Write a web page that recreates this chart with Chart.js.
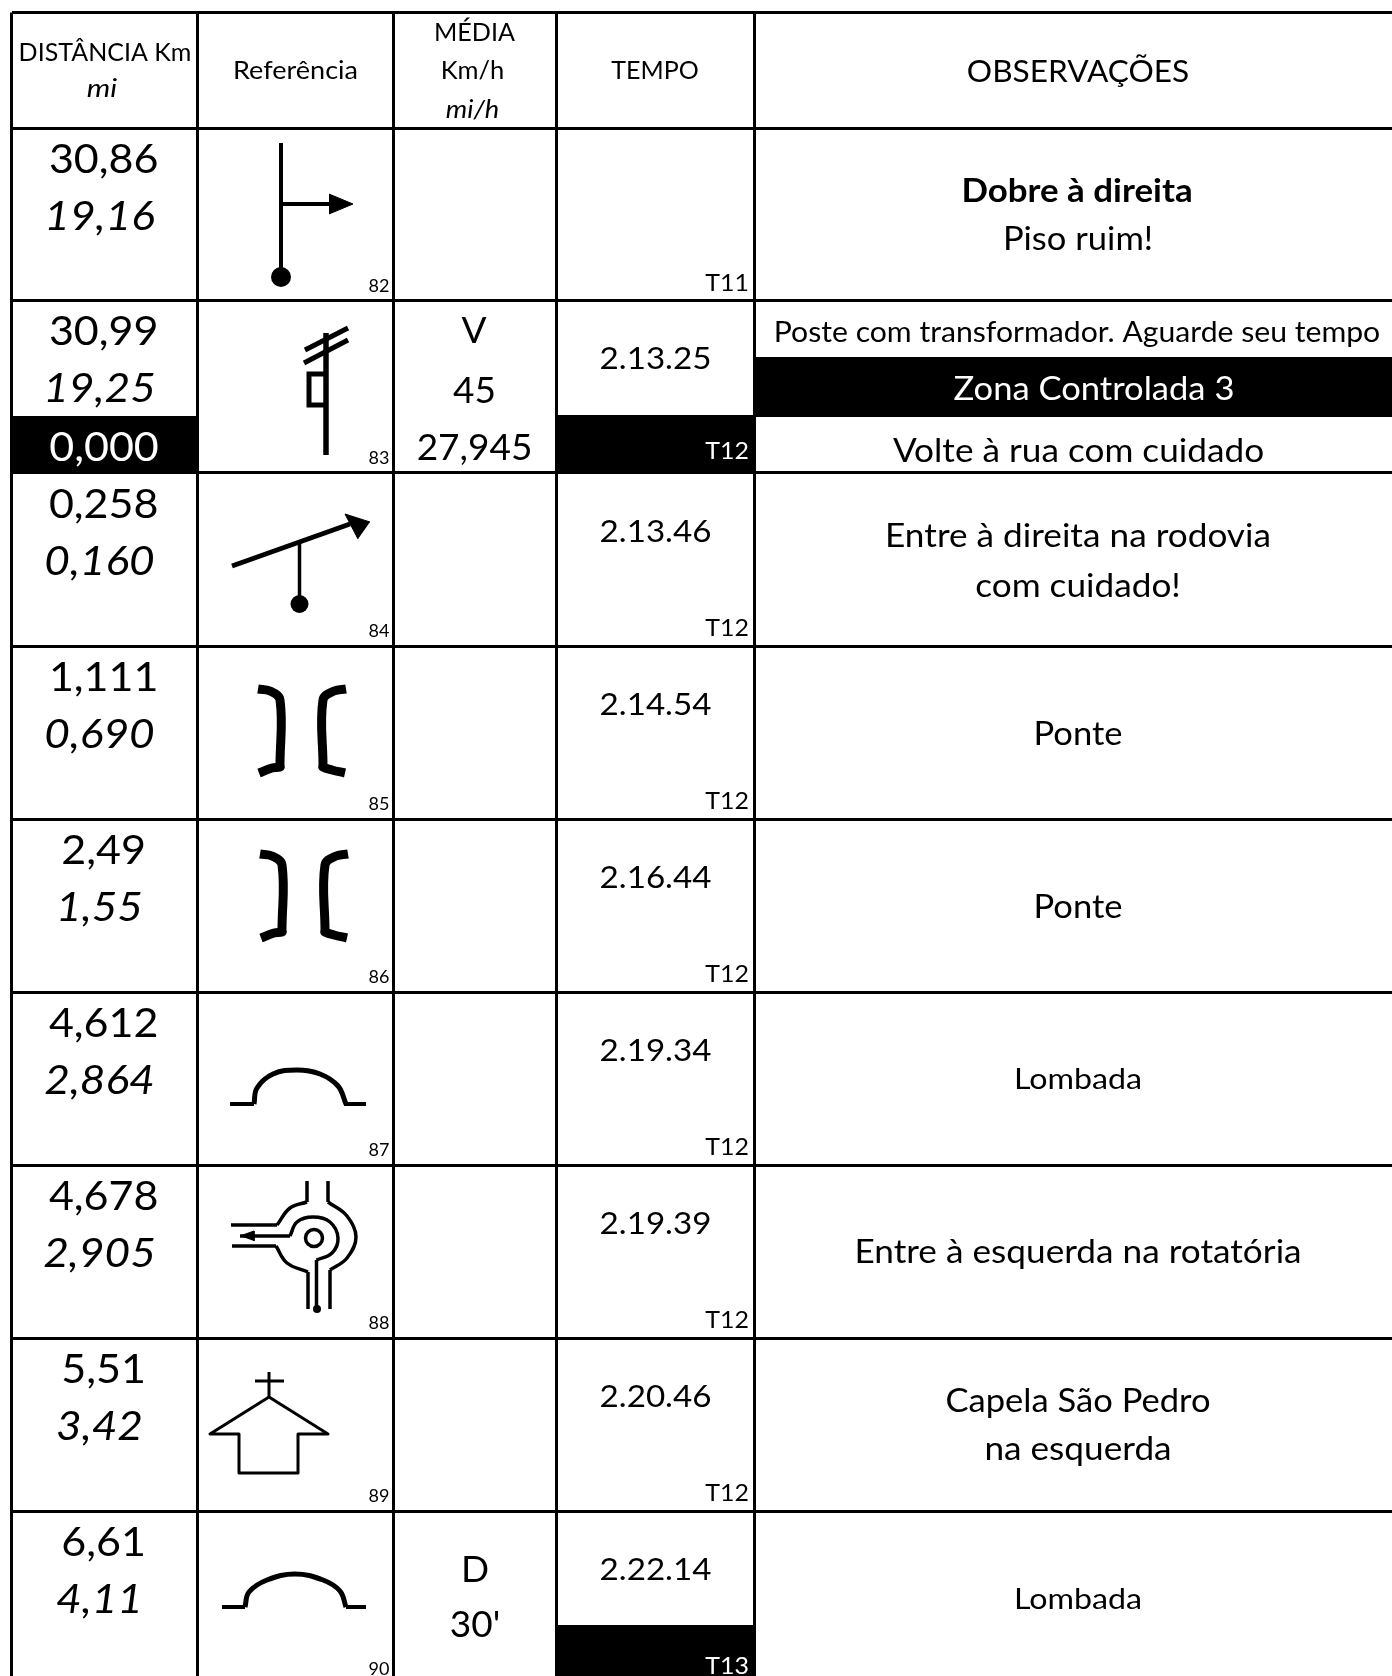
<!DOCTYPE html>
<html>
<head>
<meta charset="utf-8">
<script src="https://cdn.jsdelivr.net/npm/chart.js@4"></script>
<style>
  html, body { margin: 0; padding: 0; background: #fff; }
  canvas { display: block; }
</style>
</head>
<body>
<canvas id="myChart" width="1392" height="1676"></canvas>
<script>
// table data
var headerKm = ["DISTÂNCIA Km", "mi"];
var headerRef = ["Referência"];
var headerMedia = ["MÉDIA", "Km/h", "mi/h"];
var headerTempo = ["TEMPO"];
var headerObs = ["OBSERVAÇÕES"];

var kmValues = ["30,86", "30,99", "0,258", "1,111", "2,49", "4,612", "4,678", "5,51", "6,61"];
var miValues = ["19,16", "19,25", "0,160", "0,690", "1,55", "2,864", "2,905", "3,42", "4,11"];
var zoneStart = ["0,000"];
var refNumbers = ["82", "83", "84", "85", "86", "87", "88", "89", "90"];
var tempoValues = ["", "2.13.25", "2.13.46", "2.14.54", "2.16.44", "2.19.34", "2.19.39", "2.20.46", "2.22.14"];
var tempoTeams = ["T11", "T12", "T12", "T12", "T12", "T12", "T12", "T12", "T13"];
var mediaV = ["V", "45", "27,945"];
var mediaD = ["D", "30'"];

// table geometry, on the two linear scales
var colEdges = [11.5, 197, 393.5, 556, 754.5];
var rowEdges = [12.5, 128, 300, 473, 646, 819, 992, 1165, 1338, 1511];

var blackCells = [
    [11.5, 197, 416, 473],
    [556, 754.5, 415, 473],
    [754.5, 1392, 357, 417],
    [556, 754.5, 1625, 1676]
];

// icon strokes in table units
var straight = [
    { w: 4, p: [[281, 143], [281, 277]] },
    { w: 4, p: [[281, 204], [332, 204]] },
    { w: 5.5, p: [[326, 333], [326, 455]] },
    { w: 5, p: [[305, 350], [348, 328]] },
    { w: 5, p: [[304, 363], [348, 340]] },
    { w: 5, p: [[326, 374], [309, 374], [309, 405], [326, 405]] },
    { w: 5, p: [[232, 566], [350, 524]] },
    { w: 3.5, p: [[299.5, 543], [299.5, 604]] },
    { w: 4, p: [[230, 1104], [254, 1104]] },
    { w: 4, p: [[344, 1104], [366, 1104]] },
    { w: 4, p: [[222, 1607], [245, 1607]] },
    { w: 4, p: [[346, 1607], [366, 1607]] },
    { w: 3.5, p: [[307, 1181], [307, 1202]] },
    { w: 3.5, p: [[328, 1181], [328, 1202]] },
    { w: 3.5, p: [[231, 1225], [277, 1225]] },
    { w: 3.5, p: [[232, 1246], [276, 1246]] },
    { w: 3.5, p: [[240, 1236], [290, 1236]] },
    { w: 3.5, p: [[308, 1272], [308, 1309]] },
    { w: 3.5, p: [[330, 1270], [330, 1309]] },
    { w: 3.5, p: [[316.5, 1260], [316.5, 1309]] },
    { w: 3, p: [[269, 1372], [269, 1397]] },
    { w: 3, p: [[255, 1381], [284, 1381]] },
    { w: 3, join: "round", p: [[269, 1397], [210, 1434], [239, 1434], [239, 1473], [298, 1473], [298, 1434], [328, 1434], [269, 1397]] }
];
var curved = [
    { w: 9, p: [[258, 689], [270, 691], [280, 700], [280, 765]] },
    { w: 9, p: [[280, 765], [280, 767], [272, 768], [259, 773]] },
    { w: 9, p: [[346, 689], [334, 691], [323, 700], [323, 765]] },
    { w: 9, p: [[323, 765], [323, 767], [332, 770], [345, 773]] },
    { w: 9, p: [[260, 854], [272, 856], [282, 865], [282, 930]] },
    { w: 9, p: [[282, 930], [282, 932], [274, 933], [261, 938]] },
    { w: 9, p: [[348, 854], [336, 856], [325, 865], [325, 930]] },
    { w: 9, p: [[325, 930], [325, 932], [334, 935], [347, 938]] },
    { w: 5, p: [[254, 1104], [257, 1088], [273, 1074], [297, 1070], [320, 1074], [338, 1086], [346, 1104]] },
    { w: 5, p: [[245, 1607], [249, 1592], [267, 1580], [295, 1574], [323, 1580], [340, 1591], [346, 1607]] },
    { w: 3.5, p: [[307, 1202], [290, 1208], [277, 1225]] },
    { w: 3.5, p: [[328, 1202], [347, 1216], [356, 1237], [347, 1258], [330, 1270]] },
    { w: 3.5, p: [[276, 1246], [287, 1263], [308, 1272]] },
    { w: 3.5, p: [[290, 1236], [297, 1222], [313, 1217], [330, 1222], [338, 1238], [332, 1253], [316.5, 1260]] }
];
var solid = [
    [[329, 194], [353, 204], [329, 214]],
    [[370, 522], [345, 514], [358, 539]],
    [[240, 1236], [254, 1231], [254, 1241]]
];
var dots = [
    { x: 281, y: 277, r: 10 },
    { x: 299.5, y: 604, r: 9 },
    { x: 317, y: 1309, r: 4 }
];
var rings = [{ x: 314, y: 1238, r: 8.5 }];

function xy(p) { return { x: p[0], y: p[1] }; }

var datasets = [];
blackCells.forEach(function (c) {
    datasets.push({
        data: [xy([c[0], c[2]]), xy([c[1], c[2]]), xy([c[1], c[3]]), xy([c[0], c[3]])],
        showLine: true, fill: "shape", backgroundColor: "#000", borderColor: "#000",
        borderWidth: 0, pointRadius: 0
    });
});
straight.forEach(function (s) {
    datasets.push({ data: s.p.map(xy), showLine: true, borderColor: "#000", borderWidth: s.w, pointRadius: 0, borderJoinStyle: s.join || "miter" });
});
curved.forEach(function (s) {
    datasets.push({ data: s.p.map(xy), showLine: true, tension: 0.4, borderColor: "#000", borderWidth: s.w, pointRadius: 0 });
});
solid.forEach(function (t) {
    datasets.push({ data: t.map(xy), showLine: true, fill: "shape", backgroundColor: "#000", borderColor: "#000", borderWidth: 1, pointRadius: 0 });
});
dots.forEach(function (d) {
    datasets.push({ data: [{ x: d.x, y: d.y }], pointRadius: d.r, backgroundColor: "#000", borderColor: "#000", borderWidth: 0 });
});
rings.forEach(function (d) {
    datasets.push({ data: [{ x: d.x, y: d.y }], pointRadius: d.r, backgroundColor: "#fff", borderColor: "#000", borderWidth: 3.5 });
});

// text styles: Lato stands in for Calibri, sx is a horizontal stretch
var FONT = "Lato, 'Open Sans', sans-serif";
var big = { size: 41, sx: 1.05 };
var bigI = { size: 41, sx: 1.08, italic: true };
var media = { size: 37, sx: 1.0 };
var mid = { size: 31, sx: 1.07 };
var obs = { size: 32, sx: 1.08 };
var obsW = { size: 32, sx: 1.1 };
var obsS = { size: 29, sx: 1.04 };
var lomb = { size: 29, sx: 1.11 };
var small = { size: 18, sx: 1 };
var team = { size: 24, sx: 1.04 };

var items = [];
function t(s, x, y, st, opt) {
    items.push(Object.assign({ s: s, x: x, y: y, st: st, align: "center", color: "#000" }, opt || {}));
}

t(headerKm[0], 105, 60.5, { size: 25, sx: 1 });
t(headerKm[1], 102, 97, { size: 26, sx: 1.15, italic: true });
t(headerRef[0], 295.5, 78.5, { size: 25.5, sx: 1.06 });
t(headerMedia[0], 474.5, 41, { size: 25.5, sx: 0.985 });
t(headerMedia[1], 472.5, 78.5, { size: 25.5, sx: 1 });
t(headerMedia[2], 472.5, 118, { size: 26, sx: 1.05, italic: true });
t(headerTempo[0], 655, 78.5, { size: 25.5, sx: 0.98 });
t(headerObs[0], 1078, 81.5, { size: 31, sx: 1.02 });

kmValues.forEach(function (v, i) {
    var top = rowEdges[i + 1];
    t(v, 103.7, top + 45, big);
    t(miValues[i], 99.5, top + 102, bigI);
    t(refNumbers[i], 389.5, top + 163.5, small, { align: "right" });
    if (tempoValues[i]) t(tempoValues[i], 655.5, top + 69, mid);
    t(tempoTeams[i], 749, top + (i === 1 ? 159 : 163), team, { align: "right", color: (i === 1 || i === 8) ? "#fff" : "#000" });
});
t(zoneStart[0], 104, 460.5, big, { color: "#fff" });

t(mediaV[0], 474, 343, media);
t(mediaV[1], 474.5, 403, media);
t(mediaV[2], 474.5, 460, media);
t(mediaD[0], 475, 1582, media);
t(mediaD[1], 475, 1637, media);

t("Dobre à direita", 1077, 202, Object.assign({}, obs, { bold: true, sx: 1.09 }));
t("Piso ruim!", 1078, 250, obs);
t("Poste com transformador. Aguarde seu tempo", 1077, 341.5, obsS);
t("Zona Controlada 3", 1094, 399.5, obs, { color: "#fff" });
t("Volte à rua com cuidado", 1078.5, 462, obsW);
t("Entre à direita na rodovia", 1078, 547, obsW);
t("com cuidado!", 1078, 597, obsW);
t("Ponte", 1078, 745, obs);
t("Ponte", 1078, 918, obs);
t("Lombada", 1078, 1089, lomb);
t("Entre à esquerda na rotatória", 1078, 1263, obsW);
t("Capela São Pedro", 1078, 1412, obs);
t("na esquerda", 1078, 1460, obsW);
t("Lombada", 1078, 1608.5, lomb);

var textPlugin = {
    id: "cellText",
    afterDatasetsDraw: function (chart) {
        var ctx = chart.ctx, xs = chart.scales.x, ys = chart.scales.y;
        items.forEach(function (it) {
            ctx.save();
            ctx.font = (it.st.italic ? "italic " : "") + (it.st.bold ? "bold " : "") + it.st.size + "px " + FONT;
            ctx.fillStyle = it.color;
            ctx.textAlign = it.align;
            ctx.textBaseline = "alphabetic";
            ctx.translate(xs.getPixelForValue(it.x), ys.getPixelForValue(it.y));
            ctx.scale(it.st.sx, 1);
            ctx.fillText(it.s, 0, 0);
            ctx.restore();
        });
    }
};

new Chart("myChart", {
    type: "scatter",
    data: { datasets: datasets },
    plugins: [textPlugin],
    options: {
        responsive: false,
        animation: false,
        layout: { autoPadding: false, padding: { left: 11.5, top: 12.5, right: 0, bottom: 0 } },
        plugins: { legend: { display: false }, tooltip: { enabled: false }, title: { display: false } },
        scales: {
            x: {
                type: "linear", min: 11.5, max: 1392,
                afterBuildTicks: function (s) { s.ticks = colEdges.map(function (v) { return { value: v }; }); },
                grid: { color: "#000", lineWidth: 3, drawTicks: false },
                border: { display: false },
                ticks: { display: false }
            },
            y: {
                type: "linear", reverse: true, min: 12.5, max: 1676,
                afterBuildTicks: function (s) { s.ticks = rowEdges.map(function (v) { return { value: v }; }); },
                grid: { color: "#000", lineWidth: 3, drawTicks: false },
                border: { display: false },
                ticks: { display: false }
            }
        }
    }
});
</script>
</body>
</html>
